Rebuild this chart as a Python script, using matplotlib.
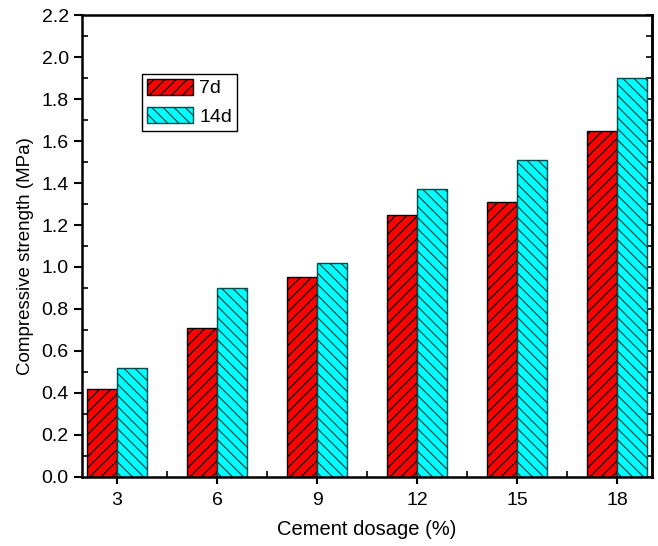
import matplotlib
matplotlib.use("Agg")
import matplotlib.pyplot as plt
from matplotlib.ticker import MultipleLocator, FixedLocator, FormatStrFormatter, NullFormatter
import numpy as np

plt.rcParams['font.family'] = ['Liberation Sans', 'DejaVu Sans']
plt.rcParams['hatch.linewidth'] = 0.9

dosage = [3, 6, 9, 12, 15, 18]
strength_7d = [0.42, 0.71, 0.95, 1.25, 1.31, 1.65]
strength_14d = [0.52, 0.90, 1.02, 1.37, 1.51, 1.90]
series_labels = ['7d', '14d']

fig = plt.figure(figsize=(6.58, 5.46), dpi=100)
ax = fig.add_axes([0.1246, 0.1264, 0.8664, 0.8461])

x = np.array(dosage, dtype=float)
w = 0.9
ax.bar(x - w/2, strength_7d, width=w, color='#ff0000', edgecolor='black',
       hatch='///', linewidth=1.0, label=series_labels[0], zorder=2)
ax.bar(x + w/2, strength_14d, width=w, color='#00ffff', edgecolor='#004c4c',
       hatch='\\\\\\', linewidth=1.0, label=series_labels[1], zorder=2)

ax.set_xlim(1.95, 19.05)
ax.set_ylim(0, 2.2)
ax.set_xticks(dosage)
ax.set_xticklabels([str(d) for d in dosage])
ax.xaxis.set_minor_locator(FixedLocator([d + 1.5 for d in dosage[:-1]]))
ax.yaxis.set_major_locator(MultipleLocator(0.2))
ax.yaxis.set_minor_locator(MultipleLocator(0.1))
ax.yaxis.set_major_formatter(FormatStrFormatter('%.1f'))

ax.tick_params(axis='y', which='major', direction='out', length=6, width=1.5, labelsize=14, right=False)
ax.tick_params(axis='y', which='minor', direction='in', length=4, width=1.2, right=False)
ax.tick_params(axis='x', which='major', direction='inout', length=10, width=1.5, labelsize=14, pad=6)
ax.tick_params(axis='x', which='minor', direction='in', length=4, width=1.2)

sec = ax.secondary_yaxis('right')
sec.yaxis.set_major_locator(MultipleLocator(0.1))
sec.yaxis.set_major_formatter(NullFormatter())
sec.tick_params(axis='y', which='major', direction='in', length=4, width=1.2)
sec.spines['right'].set_linewidth(1.8)

for s in ax.spines.values():
    s.set_linewidth(1.8)

ax.set_xlabel('Cement dosage (%)', fontsize=14.5, labelpad=8)
ax.set_ylabel('Compressive strength (MPa)', fontsize=13.5)
ax.yaxis.set_label_coords(-0.084, 0.478)

leg = ax.legend(loc='upper left', bbox_to_anchor=(0.105, 0.873), fontsize=14,
                frameon=True, fancybox=False, edgecolor='black', framealpha=1,
                handlelength=2.4, handleheight=0.9, handletextpad=0.3,
                borderpad=0.25, borderaxespad=0, labelspacing=0.5)
leg.get_frame().set_linewidth(1.0)

fig.savefig('out.png', dpi=100)
